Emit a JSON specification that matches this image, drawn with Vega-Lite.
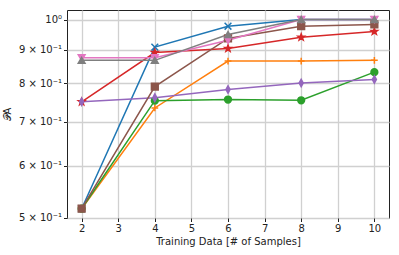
{
  "$schema": "https://vega.github.io/schema/vega-lite/v6.json",
  "width": 322,
  "height": 208,
  "autosize": {"type": "none"},
  "padding": {"left": 67, "top": 10, "right": 10, "bottom": 37},
  "background": "white",
  "config": {
    "font": "DejaVu Sans",
    "view": {"stroke": "#222222", "strokeWidth": 1},
    "axis": {
      "grid": true,
      "gridColor": "#d0d0d0",
      "gridWidth": 1.3,
      "domain": false,
      "tickColor": "#222222",
      "tickSize": 3.5,
      "tickWidth": 1,
      "labelFontSize": 10,
      "labelColor": "#222222",
      "titleFontSize": 10,
      "titleFontWeight": "normal",
      "titleColor": "#222222",
      "labelPadding": 2
    }
  },
  "data": {
    "values": [
      {"s": "a", "n": 2, "v": 0.516}, {"s": "a", "n": 4, "v": 0.908}, {"s": "a", "n": 6, "v": 0.977}, {"s": "a", "n": 8, "v": 1.0}, {"s": "a", "n": 10, "v": 1.0},
      {"s": "b", "n": 2, "v": 0.516}, {"s": "b", "n": 4, "v": 0.734}, {"s": "b", "n": 6, "v": 0.865}, {"s": "b", "n": 8, "v": 0.865}, {"s": "b", "n": 10, "v": 0.867},
      {"s": "c", "n": 2, "v": 0.516}, {"s": "c", "n": 4, "v": 0.753}, {"s": "c", "n": 6, "v": 0.756}, {"s": "c", "n": 8, "v": 0.754}, {"s": "c", "n": 10, "v": 0.832},
      {"s": "d", "n": 2, "v": 0.75}, {"s": "d", "n": 4, "v": 0.891}, {"s": "d", "n": 6, "v": 0.904}, {"s": "d", "n": 8, "v": 0.94}, {"s": "d", "n": 10, "v": 0.959},
      {"s": "e", "n": 2, "v": 0.75}, {"s": "e", "n": 4, "v": 0.761}, {"s": "e", "n": 6, "v": 0.783}, {"s": "e", "n": 8, "v": 0.801}, {"s": "e", "n": 10, "v": 0.811},
      {"s": "f", "n": 2, "v": 0.516}, {"s": "f", "n": 4, "v": 0.791}, {"s": "f", "n": 6, "v": 0.936}, {"s": "f", "n": 8, "v": 0.977}, {"s": "f", "n": 10, "v": 0.983},
      {"s": "g", "n": 2, "v": 0.875}, {"s": "g", "n": 4, "v": 0.875}, {"s": "g", "n": 6, "v": 0.93}, {"s": "g", "n": 8, "v": 1.0}, {"s": "g", "n": 10, "v": 1.0},
      {"s": "h", "n": 2, "v": 0.867}, {"s": "h", "n": 4, "v": 0.867}, {"s": "h", "n": 6, "v": 0.949}, {"s": "h", "n": 8, "v": 1.0}, {"s": "h", "n": 10, "v": 1.0}
    ]
  },
  "encoding": {
    "x": {
      "field": "n",
      "type": "quantitative",
      "scale": {"domain": [1.6, 10.4], "nice": false, "zero": false},
      "axis": {"values": [2, 3, 4, 5, 6, 7, 8, 9, 10], "title": "Training Data [# of Samples]", "titlePadding": 3}
    },
    "y": {
      "field": "v",
      "type": "quantitative",
      "scale": {"type": "log", "domain": [0.4995, 1.034], "nice": false},
      "axis": {
        "values": [0.5, 0.6, 0.7, 0.8, 0.9, 1.0],
        "labelExpr": "datum.value >= 0.99 ? '10⁰' : round(datum.value * 10) + ' × 10⁻¹'",
        "title": "𝒫A",
        "titlePadding": 6
      }
    }
  },
  "layer": [
    {
      "mark": {"type": "line", "strokeWidth": 1.5},
      "encoding": {
        "color": {
          "field": "s",
          "type": "nominal",
          "scale": {"domain": ["a", "b", "c", "d", "e", "f", "g", "h"], "range": ["#1f77b4", "#ff7f0e", "#2ca02c", "#d62728", "#9467bd", "#8c564b", "#e377c2", "#7f7f7f"]},
          "legend": null
        }
      }
    },
    {
      "mark": {"type": "point", "filled": true, "size": 46, "strokeWidth": 1.5, "opacity": 1},
      "encoding": {
        "fill": {
          "field": "s",
          "type": "nominal",
          "scale": {"domain": ["a", "b", "c", "d", "e", "f", "g", "h"], "range": ["#1f77b4", "#ff7f0e", "#2ca02c", "#d62728", "#9467bd", "#8c564b", "#e377c2", "#7f7f7f"]},
          "legend": null
        },
        "stroke": {
          "field": "s",
          "type": "nominal",
          "scale": {"domain": ["a", "b", "c", "d", "e", "f", "g", "h"], "range": ["#1f77b4", "#ff7f0e", "#2ca02c", "#d62728", "#9467bd", "#8c564b", "#e377c2", "#7f7f7f"]},
          "legend": null
        },
        "shape": {
          "field": "s",
          "type": "nominal",
          "scale": {
            "domain": ["a", "b", "c", "d", "e", "f", "g", "h"],
            "range": [
              "M-1,-1L1,1M-1,1L1,-1",
              "M-1,0L1,0M0,-1L0,1",
              "circle",
              "M0,-1L0.235,-0.324L0.951,-0.309L0.38,0.124L0.588,0.809L0,0.4L-0.588,0.809L-0.38,0.124L-0.951,-0.309L-0.235,-0.324Z",
              "M0,-1.1L0.6,0L0,1.1L-0.6,0Z",
              "square",
              "triangle-down",
              "triangle-up"
            ]
          },
          "legend": null
        }
      }
    }
  ]
}
